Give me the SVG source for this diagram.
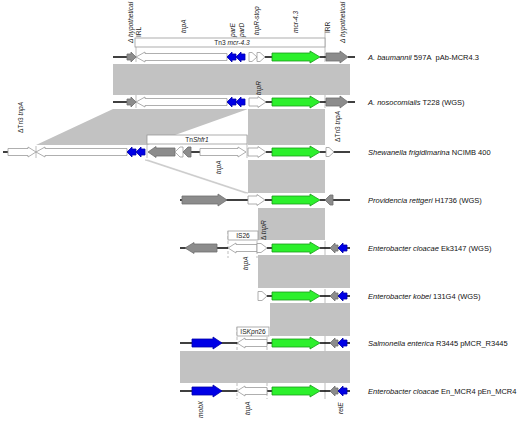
<svg xmlns="http://www.w3.org/2000/svg" width="520" height="421" viewBox="0 0 520 421">
<style>
.bg{fill:#fff}
.cmp{fill:#c2c2c2;stroke:none}
.ln{stroke:#000;stroke-width:1.5;fill:none}
.sep{stroke:#bdbdbd;stroke-width:1;fill:none}
.dsep{stroke:#bdbdbd;stroke-width:1;stroke-dasharray:3,2;fill:none}
.w{fill:#fff;stroke:#9a9a9a;stroke-width:0.8}
.g{fill:#8c8c8c;stroke:#6e6e6e;stroke-width:0.8}
.b{fill:#0000e6;stroke:#0000a8;stroke-width:0.8}
.gr{fill:#2cf02c;stroke:#1a9a1a;stroke-width:0.8}
.box{fill:#fff;stroke:#9a9a9a;stroke-width:0.8}
.lab{font-family:'Liberation Sans',Arial,sans-serif;font-size:6.6px;fill:#222}
.it{font-style:italic}
.org{font-family:'Liberation Sans',Arial,sans-serif;font-size:7.5px;fill:#111}
</style>
<rect class="bg" x="0" y="0" width="520" height="421"/>

<g id="connectors">
<rect class="cmp" x="113" y="64" width="237" height="31"/>
<polygon class="cmp" points="113,109 248,109 147,145 36,145"/>
<rect class="cmp" x="248" y="109" width="77" height="36"/>
<rect class="cmp" x="248" y="160" width="77" height="33"/>
<polygon points="145,160 148,160 248,193 245,193" fill="#d0d0d0" stroke="#c4c4c4" stroke-width="0.6"/>
<rect class="cmp" x="258" y="208" width="67" height="32"/>
<rect class="cmp" x="258" y="255" width="92" height="33"/>
<rect class="cmp" x="270" y="303" width="80" height="33"/>
<rect class="cmp" x="180" y="351" width="170" height="32"/>
</g>

<g id="row1">
<line class="sep" x1="136" y1="38" x2="136" y2="62"/>
<line class="sep" x1="325" y1="30" x2="325" y2="62"/>
<rect class="box" x="135" y="38" width="190" height="9"/>
<text class="lab" x="232" y="45.3" text-anchor="middle">Tn3 <tspan class="it">mcr-4.3</tspan></text>
<line class="ln" x1="113" y1="57" x2="128" y2="57"/>
<line class="ln" x1="265" y1="57" x2="272" y2="57"/>
<line class="ln" x1="320" y1="57" x2="326" y2="57"/>
<line class="ln" x1="348" y1="57" x2="355" y2="57"/>
<polygon class="g" points="127,54 131,54 131,52 136,57 131,62 131,60 127,60"/>
<polygon class="w" points="136,57 145,52 145,53.5 227,53.5 227,60.5 145,60.5 145,62"/>
<polygon class="b" points="227,57 232,52 232,54 236,54 236,60 232,60 232,62"/>
<polygon class="b" points="236,57 241,52 241,54 245,54 245,60 241,60 241,62"/>
<polygon class="w" points="249,52.5 252,52.5 257,57 252,61.5 249,61.5"/>
<polygon class="w" points="257,52.5 260,52.5 265,57 260,61.5 257,61.5"/>
<polygon class="gr" points="272,53 310,53 310,51 320,57 310,63 310,61 272,61"/>
<polygon class="g" points="326,53 340,53 340,51 348,57 340,63 340,61 326,61"/>
<text class="lab it" transform="translate(132.5,43) rotate(-90)">Δ hypothetical</text>
<text class="lab" transform="translate(140.5,37) rotate(-90)">IRL</text>
<text class="lab it" transform="translate(185.5,33) rotate(-90)">tnpA</text>
<text class="lab it" transform="translate(234.5,37) rotate(-90)">parE</text>
<text class="lab it" transform="translate(243.5,37) rotate(-90)">parD</text>
<text class="lab it" transform="translate(258.5,35) rotate(-90)">tnpR-stop</text>
<text class="lab it" transform="translate(297.5,33) rotate(-90)">mcr-4.3</text>
<text class="lab" transform="translate(329.5,33) rotate(-90)">IRR</text>
<text class="lab it" transform="translate(345,43) rotate(-90)">Δ hypothetical</text>
<text class="org" x="368" y="60"><tspan class="it">A. baumannii</tspan> 597A&#160; pAb-MCR4.3</text>
</g>

<g id="row2">
<line class="sep" x1="136" y1="95" x2="136" y2="108"/>
<line class="sep" x1="325" y1="95" x2="325" y2="108"/>
<line class="ln" x1="113" y1="102" x2="128" y2="102"/>
<line class="ln" x1="265" y1="102" x2="272" y2="102"/>
<line class="ln" x1="320" y1="102" x2="326" y2="102"/>
<line class="ln" x1="348" y1="102" x2="355" y2="102"/>
<polygon class="g" points="127,99 131,99 131,97 136,102 131,107 131,105 127,105"/>
<polygon class="w" points="136,102 145,97 145,98.5 227,98.5 227,105.5 145,105.5 145,107"/>
<polygon class="b" points="227,102 232,97 232,99 236,99 236,105 232,105 232,107"/>
<polygon class="b" points="236,102 241,97 241,99 245,99 245,105 241,105 241,107"/>
<polygon class="w" points="249,98 258,98 258,96.5 266,102 258,107.5 258,106 249,106"/>
<polygon class="gr" points="272,98 310,98 310,96 320,102 310,108 310,106 272,106"/>
<polygon class="g" points="326,98 340,98 340,96 348,102 340,108 340,106 326,106"/>
<text class="lab it" transform="translate(260.5,95) rotate(-90)">tnpR</text>
<text class="org" x="368" y="105"><tspan class="it">A. nosocomialis</tspan> T228 (WGS)</text>
</g>

<g id="row3">
<line class="sep" x1="36" y1="146" x2="36" y2="158"/>
<line class="sep" x1="147" y1="135" x2="147" y2="158"/>
<line class="sep" x1="247" y1="135" x2="247" y2="158"/>
<rect class="box" x="147" y="135" width="100" height="9"/>
<text class="lab" x="197" y="142.3" text-anchor="middle">Tn<tspan class="it">Shfr1</tspan></text>
<line class="ln" x1="3" y1="152" x2="8" y2="152"/>
<line class="ln" x1="191" y1="152" x2="200" y2="152"/>
<line class="ln" x1="266" y1="152" x2="272" y2="152"/>
<line class="ln" x1="320" y1="152" x2="350" y2="152"/>
<polygon class="w" points="8,148.5 28,148.5 28,147 36,152 28,157 28,155.5 8,155.5"/>
<polygon class="w" points="36,152 45,147 45,148.5 127,148.5 127,155.5 45,155.5 45,157"/>
<polygon class="b" points="127,152 132,147 132,149 136,149 136,155 132,155 132,157"/>
<polygon class="b" points="136,152 141,147 141,149 145,149 145,155 141,155 141,157"/>
<polygon class="g" points="148,152 156,146.5 156,148 175,148 175,156 156,156 156,157.5"/>
<polygon class="w" points="175,152 180,147 183,147 183,157 180,157"/>
<polygon class="g" points="183,152 188,147 191,147 191,157 188,157"/>
<polygon class="w" points="200,148.5 238,148.5 238,147 246,152 238,157 238,155.5 200,155.5"/>
<polygon class="w" points="248,148 258,148 258,146.5 266,152 258,157.5 258,156 248,156"/>
<polygon class="gr" points="272,148 310,148 310,146 320,152 310,158 310,156 272,156"/>
<polygon class="w" points="326,147.5 329,147.5 334,152 329,156.5 326,156.5"/>
<text class="lab" transform="translate(22.5,133) rotate(-90)">ΔTn3 <tspan class="it">tnpA</tspan></text>
<text class="lab it" transform="translate(220.5,174) rotate(-90)">tnpA</text>
<text class="lab" transform="translate(339.5,142) rotate(-90)">ΔTn3 <tspan class="it">tnpA</tspan></text>
<text class="org" x="368" y="154.5"><tspan class="it">Shewanella frigidimarina</tspan> NCIMB 400</text>
</g>

<g id="row4">
<line class="ln" x1="180" y1="200" x2="248" y2="200"/>
<line class="ln" x1="265" y1="200" x2="272" y2="200"/>
<line class="ln" x1="320" y1="200" x2="350" y2="200"/>
<polygon class="g" points="182,196 218,196 218,194 227,200 218,206 218,204 182,204"/>
<polygon class="w" points="248,196 257,196 257,194.5 265,200 257,205.5 257,204 248,204"/>
<polygon class="gr" points="272,196 310,196 310,194 320,200 310,206 310,204 272,204"/>
<polygon class="g" points="325,200 330,195 333,195 333,205 330,205"/>
<text class="org" x="368" y="202.5"><tspan class="it">Providencia rettgeri</tspan> H1736 (WGS)</text>
</g>

<g id="row5">
<line class="dsep" x1="228" y1="231" x2="228" y2="258"/>
<line class="dsep" x1="257" y1="231" x2="257" y2="258"/>
<line class="sep" x1="325" y1="241" x2="325" y2="255"/>
<rect class="box" x="228" y="231" width="30" height="9"/>
<text class="lab" x="243" y="238.3" text-anchor="middle">IS26</text>
<line class="ln" x1="180" y1="248" x2="228" y2="248"/>
<line class="ln" x1="267" y1="248" x2="272" y2="248"/>
<line class="ln" x1="320" y1="248" x2="350" y2="248"/>
<polygon class="g" points="185,248 194,242.5 194,244 217,244 217,252 194,252 194,253.5"/>
<polygon class="w" points="228,248 236,243 236,244.5 257,244.5 257,251.5 236,251.5 236,253"/>
<polygon class="w" points="257,243.5 261,243.5 267,248 261,252.5 257,252.5"/>
<polygon class="gr" points="272,244 310,244 310,242 320,248 310,254 310,252 272,252"/>
<polygon class="g" points="330,248 335,243 335,245 338,245 338,251 335,251 335,253"/>
<polygon class="b" points="338,248 343,243 343,245 347,245 347,251 343,251 343,253"/>
<text class="lab" transform="translate(265.5,240) rotate(-90)">Δ <tspan class="it">tnpR</tspan></text>
<text class="lab it" transform="translate(247.5,270) rotate(-90)">tnpA</text>
<text class="org" x="368" y="250.5"><tspan class="it">Enterobacter cloacae</tspan> Ek3147 (WGS)</text>
</g>

<g id="row6">
<line class="sep" x1="325" y1="289" x2="325" y2="303"/>
<line class="ln" x1="267" y1="296" x2="272" y2="296"/>
<line class="ln" x1="320" y1="296" x2="350" y2="296"/>
<polygon class="w" points="258,291.5 262,291.5 267,296 262,300.5 258,300.5"/>
<polygon class="gr" points="272,292 310,292 310,290 320,296 310,302 310,300 272,300"/>
<polygon class="g" points="330,296 335,291 335,293 338,293 338,299 335,299 335,301"/>
<polygon class="b" points="338,296 343,291 343,293 347,293 347,299 343,299 343,301"/>
<text class="org" x="368" y="298.5"><tspan class="it">Enterobacter kobei</tspan> 131G4 (WGS)</text>
</g>

<g id="row7">
<line class="dsep" x1="237" y1="327" x2="237" y2="351"/>
<line class="dsep" x1="267" y1="327" x2="267" y2="351"/>
<line class="sep" x1="325" y1="336" x2="325" y2="351"/>
<rect class="box" x="237" y="327" width="32" height="9"/>
<text class="lab" x="253" y="334.3" text-anchor="middle">IS<tspan class="it">Kpn</tspan>26</text>
<line class="ln" x1="180" y1="343" x2="272" y2="343"/>
<line class="ln" x1="320" y1="343" x2="350" y2="343"/>
<polygon class="b" points="192,339 213,339 213,337 222,343 213,349 213,347 192,347"/>
<polygon class="w" points="237,343 245,338 245,339.5 267,339.5 267,346.5 245,346.5 245,348"/>
<polygon class="gr" points="272,339 310,339 310,337 320,343 310,349 310,347 272,347"/>
<polygon class="g" points="330,343 335,338 335,340 338,340 338,346 335,346 335,348"/>
<polygon class="b" points="338,343 343,338 343,340 347,340 347,346 343,346 343,348"/>
<text class="org" x="368" y="345.5"><tspan class="it">Salmonella enterica</tspan> R3445 pMCR_R3445</text>
</g>

<g id="row8">
<line class="dsep" x1="237" y1="383" x2="237" y2="399"/>
<line class="dsep" x1="267" y1="383" x2="267" y2="399"/>
<line class="sep" x1="325" y1="383" x2="325" y2="399"/>
<line class="ln" x1="180" y1="391" x2="272" y2="391"/>
<line class="ln" x1="320" y1="391" x2="350" y2="391"/>
<polygon class="b" points="192,387 213,387 213,385 222,391 213,397 213,395 192,395"/>
<polygon class="w" points="237,391 245,386 245,387.5 267,387.5 267,394.5 245,394.5 245,396"/>
<polygon class="gr" points="272,387 310,387 310,385 320,391 310,397 310,395 272,395"/>
<polygon class="g" points="330,391 335,386 335,388 338,388 338,394 335,394 335,396"/>
<polygon class="b" points="338,391 343,386 343,388 347,388 347,394 343,394 343,396"/>
<text class="lab it" transform="translate(202.5,418) rotate(-90)">mobX</text>
<text class="lab it" transform="translate(249.5,415) rotate(-90)">tnpA</text>
<text class="lab it" transform="translate(342.5,414) rotate(-90)">relE</text>
<text class="org" x="368" y="393.5"><tspan class="it">Enterobacter cloacae</tspan> En_MCR4 pEn_MCR4</text>
</g>
</svg>
